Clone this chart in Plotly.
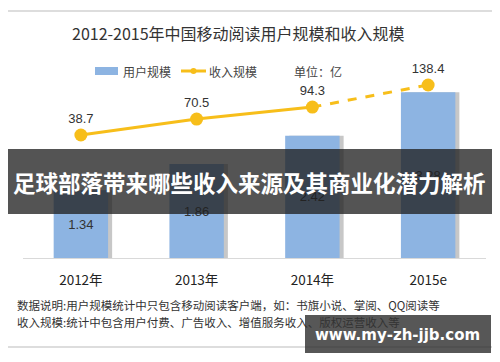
import plotly.graph_objects as go

years = ["2012年", "2013年", "2014年", "2015e"]
users = [1.34, 1.86, 2.42, 3.28]          # 用户规模 (亿)
revenue = [38.7, 70.5, 94.3, 138.4]       # 收入规模 (亿)
user_labels = ["1.34", "1.86", "2.42", "3.28"]
rev_labels = ["38.7", "70.5", "94.3", "138.4"]

title = "2012-2015年中国移动阅读用户规模和收入规模"
note1 = "数据说明:用户规模统计中只包含移动阅读客户端，如：书旗小说、掌阅、QQ阅读等"
note2 = "收入规模:统计中包含用户付费、广告收入、增值服务收入、版权运营收入等"
banner = "足球部落带来哪些收入来源及其商业化潜力解析"
watermark = "www.my-zh-jjb.com"

CJK = "Noto Sans CJK SC"
BLUE = "#8DB4E2"
GOLD = "#F7BE1A"


def px(x):
    return (x - 23) / 463


def py(y):
    return (258 - y) / 198


fig = go.Figure()

# bar shadow
fig.add_trace(go.Bar(
    x=years, y=users, width=0.47, offset=-0.235 + 0.035,
    marker=dict(color="rgba(0,0,0,0.22)", line=dict(width=0)),
    hoverinfo="skip", showlegend=False,
))
fig.add_trace(go.Bar(
    x=years, y=users, width=0.47, offset=-0.235,
    marker=dict(color=BLUE, line=dict(width=0)),
    text=user_labels, textposition="inside", insidetextanchor="middle",
    textfont=dict(family="Liberation Sans, Arial", size=13, color="#333333"),
    textangle=0, showlegend=False,
))
# solid segment
fig.add_trace(go.Scatter(
    x=years[:3], y=revenue[:3], yaxis="y2", mode="lines",
    line=dict(color=GOLD, width=3), showlegend=False, hoverinfo="skip",
))
# dashed segment (estimate)
fig.add_trace(go.Scatter(
    x=years[2:], y=revenue[2:], yaxis="y2", mode="lines",
    line=dict(color=GOLD, width=3, dash="dash"), showlegend=False, hoverinfo="skip",
))
fig.add_trace(go.Scatter(
    x=years, y=revenue, yaxis="y2", mode="markers+text",
    marker=dict(color=GOLD, size=13),
    text=rev_labels, textposition="top center",
    textfont=dict(family="Liberation Sans, Arial", size=13, color="#333333"),
    showlegend=False,
))

shapes = [
    dict(type="rect", xref="paper", yref="paper", x0=px(6), x1=px(496),
         y0=py(347), y1=py(11),
         line=dict(color="#BBBBBB", width=1), layer="below"),
    # legend marks
    dict(type="rect", xref="paper", yref="paper", x0=px(95), x1=px(118),
         y0=py(75), y1=py(67), fillcolor=BLUE, line=dict(width=0)),
    dict(type="line", xref="paper", yref="paper", x0=px(181), x1=px(206),
         y0=py(71), y1=py(71), line=dict(color=GOLD, width=3)),
    dict(type="circle", xref="paper", yref="paper", x0=px(190.5), x1=px(196.5),
         y0=py(74), y1=py(68), fillcolor=GOLD, line=dict(width=0)),
    # overlay banner and watermark
    dict(type="rect", xref="paper", yref="paper", x0=px(8), x1=px(492),
         y0=py(214), y1=py(149),
         fillcolor="rgba(30,30,30,0.76)", line=dict(width=0), layer="above"),
    dict(type="rect", xref="paper", yref="paper", x0=px(305), x1=px(491),
         y0=py(353), y1=py(315),
         fillcolor="rgba(45,45,45,0.8)", line=dict(width=0), layer="above"),
]

annotations = [
    dict(text=title, xref="paper", yref="paper", x=px(238), y=py(33),
         showarrow=False, xanchor="center", yanchor="middle",
         font=dict(family=CJK, size=16, color="#333333")),
    dict(text="用户规模", xref="paper", yref="paper", x=px(121), y=py(71),
         showarrow=False, xanchor="left", yanchor="middle",
         font=dict(family=CJK, size=12, color="#444444")),
    dict(text="收入规模", xref="paper", yref="paper", x=px(207), y=py(71),
         showarrow=False, xanchor="left", yanchor="middle",
         font=dict(family=CJK, size=12, color="#444444")),
    dict(text="单位：亿", xref="paper", yref="paper", x=px(292), y=py(71),
         showarrow=False, xanchor="left", yanchor="middle",
         font=dict(family=CJK, size=12, color="#444444")),
    dict(text=note1, xref="paper", yref="paper", x=px(15), y=py(305),
         showarrow=False, xanchor="left", yanchor="middle",
         font=dict(family=CJK, size=11.5, color="#333333")),
    dict(text=note2, xref="paper", yref="paper", x=px(15), y=py(322),
         showarrow=False, xanchor="left", yanchor="middle",
         font=dict(family=CJK, size=11.5, color="#333333")),
    dict(text="<b>" + banner + "</b>", xref="paper", yref="paper", x=px(249),
         y=py(182), showarrow=False, xanchor="center", yanchor="middle",
         font=dict(family=CJK, size=22.5, color="white")),
    dict(text="<b>" + watermark + "</b>", xref="paper", yref="paper", x=px(397),
         y=py(335), showarrow=False, xanchor="center", yanchor="middle",
         font=dict(family="DejaVu Sans, Open Sans", size=15, color="white")),
]

fig.update_layout(
    width=500, height=362,
    margin=dict(l=15, r=22, t=52, b=112),
    paper_bgcolor="white", plot_bgcolor="white",
    barmode="overlay",
    showlegend=False,
    xaxis=dict(type="category", range=[-0.5, 3.5], showgrid=False,
               showline=True, linecolor="#D9D9D9", linewidth=1,
               ticks="outside", ticklen=10, tickcolor="rgba(0,0,0,0)",
               tickfont=dict(family=CJK, size=13.5, color="#222222"), zeroline=False),
    yaxis=dict(range=[0, 3.92], visible=False, showgrid=False, zeroline=False),
    yaxis2=dict(range=[-206.6, 188.2], overlaying="y", side="right",
                visible=False, showgrid=False, zeroline=False),
    shapes=shapes, annotations=annotations,
)

fig.write_html("out.html")
